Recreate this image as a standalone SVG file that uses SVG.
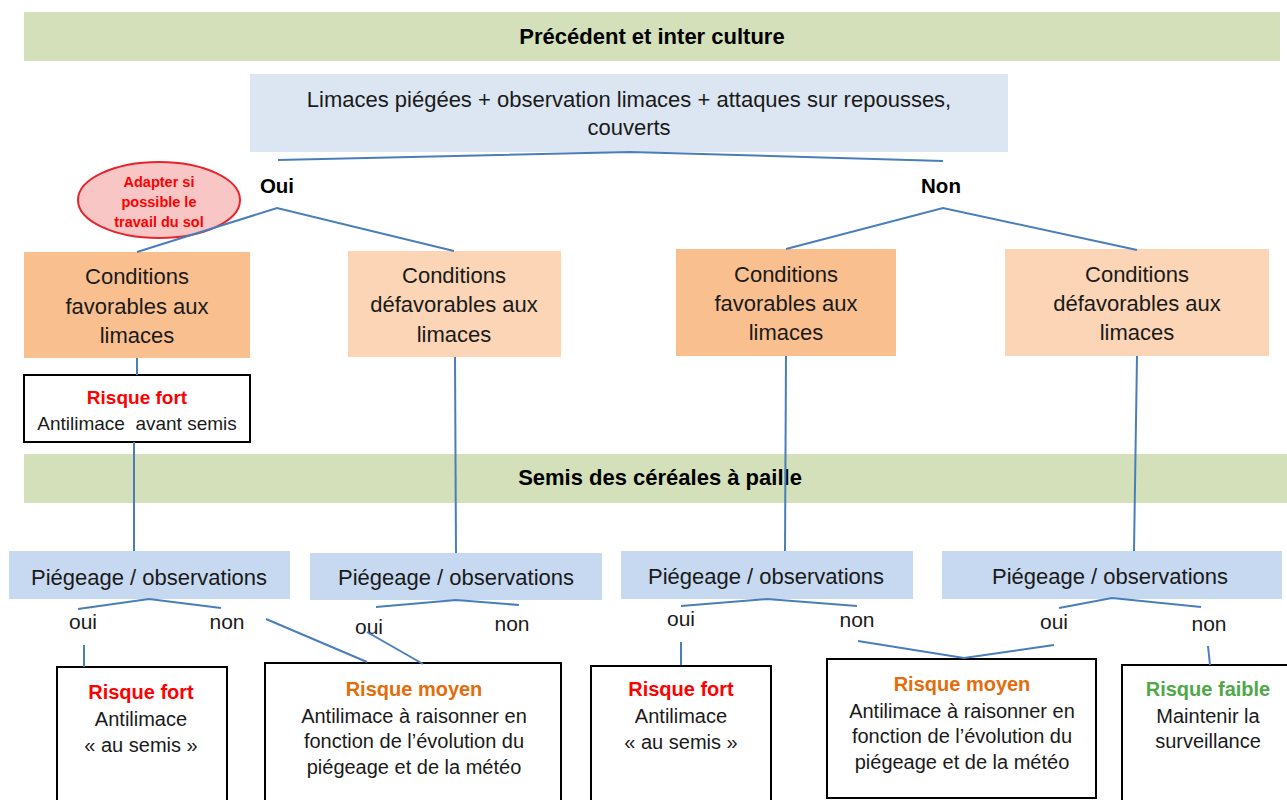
<svg xmlns="http://www.w3.org/2000/svg" width="1287" height="800" viewBox="0 0 1287 800">
<style>
text{font-family:"Liberation Sans",Arial,sans-serif;fill:#1a1a1a;text-anchor:middle;white-space:pre}
.band{fill:#d3e0b9}
.t22{font-size:22px}
.tb{font-size:22px;font-weight:bold;fill:#000}
.cd{fill:#f9bf8f}
.cl{fill:#fbd5b5}
.pg{fill:#c6d9f1}
.rk{fill:#fff;stroke:#000;stroke-width:2}
.lbl{font-size:21px}
.rf{font-weight:bold;fill:#ff0000}
.rm{font-weight:bold;fill:#e46c0a}
.rg{font-weight:bold;fill:#50a849}
.b20{font-size:20px}
.b19{font-size:19px}
.on{font-size:20.5px;font-weight:bold;fill:#000}
.el{font-size:14.5px}
.conn{fill:none;stroke:#4a7ebb;stroke-width:2}
</style>
<rect width="1287" height="800" fill="#fff"/>
<g id="band-precedent"><rect class="band" x="24" y="12" width="1256" height="49"/><text class="tb" x="652" y="44">Précédent et inter culture</text></g>
<g id="observation"><rect x="250" y="74" width="758" height="78" fill="#dce6f2"/><text class="t22" x="629" y="107">Limaces piégées + observation limaces + attaques sur repousses,</text><text class="t22" x="629" y="135">couverts</text></g>
<g id="label-oui"><text class="on" x="277" y="193">Oui</text></g>
<g id="label-non"><text class="on" x="941" y="193">Non</text></g>
<g id="adapter"><ellipse cx="159" cy="200" rx="81" ry="38" fill="#f9c6c6" stroke="#e5242b" stroke-width="2"/><text x="159" y="187" class="rf el">Adapter si</text><text x="159" y="207" class="rf el">possible le</text><text x="159" y="227" class="rf el">travail du sol</text></g>
<g id="cond-oui-fav"><rect class="cd" x="24" y="252" width="226" height="106"/><text class="t22" x="137" y="284">Conditions</text><text class="t22" x="137" y="314">favorables aux</text><text class="t22" x="137" y="343">limaces</text></g>
<g id="cond-oui-defav"><rect class="cl" x="348" y="251" width="213" height="106"/><text class="t22" x="454" y="283">Conditions</text><text class="t22" x="454" y="312">défavorables aux</text><text class="t22" x="454" y="342">limaces</text></g>
<g id="cond-non-fav"><rect class="cd" x="676" y="249" width="220" height="107"/><text class="t22" x="786" y="282">Conditions</text><text class="t22" x="786" y="311">favorables aux</text><text class="t22" x="786" y="340">limaces</text></g>
<g id="cond-non-defav"><rect class="cl" x="1005" y="249" width="264" height="107"/><text class="t22" x="1137" y="282">Conditions</text><text class="t22" x="1137" y="311">défavorables aux</text><text class="t22" x="1137" y="340">limaces</text></g>
<g id="risque-avant-semis"><rect class="rk" x="24" y="375" width="226" height="67"/><text class="b19 rf" x="137" y="404">Risque fort</text><text class="b19" x="137" y="430">Antilimace  avant semis</text></g>
<g id="band-semis"><rect class="band" x="24" y="454" width="1263" height="49"/><text class="tb" x="660" y="485">Semis des céréales à paille</text></g>
<g id="piegeage-1"><rect class="pg" x="9" y="551" width="281" height="48"/><text class="t22" x="149" y="585">Piégeage / observations</text></g>
<g id="piegeage-2"><rect class="pg" x="310" y="553" width="292" height="47"/><text class="t22" x="456" y="585">Piégeage / observations</text></g>
<g id="piegeage-3"><rect class="pg" x="621" y="551" width="292" height="48"/><text class="t22" x="766" y="584">Piégeage / observations</text></g>
<g id="piegeage-4"><rect class="pg" x="942" y="551" width="340" height="48"/><text class="t22" x="1110" y="584">Piégeage / observations</text></g>
<g id="labels-pieg">
<text class="lbl" x="83" y="629">oui</text><text class="lbl" x="227" y="629">non</text>
<text class="lbl" x="369" y="634">oui</text><text class="lbl" x="512" y="631">non</text>
<text class="lbl" x="681" y="626">oui</text><text class="lbl" x="857" y="627">non</text>
<text class="lbl" x="1054" y="629">oui</text><text class="lbl" x="1209" y="631">non</text>
</g>
<g id="risque-fort-1"><rect class="rk" x="57" y="667" width="170" height="145"/><text class="b20 rf" x="141" y="699">Risque fort</text><text class="b20" x="141" y="726">Antilimace</text><text class="b20" x="141" y="752">« au semis »</text></g>
<g id="risque-moyen-1"><rect class="rk" x="265" y="663" width="296" height="150"/><text class="b20 rm" x="414" y="696">Risque moyen</text><text class="b20" x="414" y="723">Antilimace à raisonner en</text><text class="b20" x="414" y="748">fonction de l’évolution du</text><text class="b20" x="414" y="774">piégeage et de la météo</text></g>
<g id="risque-fort-2"><rect class="rk" x="591" y="666" width="180" height="146"/><text class="b20 rf" x="681" y="696">Risque fort</text><text class="b20" x="681" y="723">Antilimace</text><text class="b20" x="681" y="749">« au semis »</text></g>
<g id="risque-moyen-2"><rect class="rk" x="827" y="659" width="269" height="139"/><text class="b20 rm" x="962" y="691">Risque moyen</text><text class="b20" x="962" y="718">Antilimace à raisonner en</text><text class="b20" x="962" y="743">fonction de l’évolution du</text><text class="b20" x="962" y="769">piégeage et de la météo</text></g>
<g id="risque-faible"><rect class="rk" x="1122" y="665" width="180" height="148"/><text class="b20 rg" x="1208" y="696">Risque faible</text><text class="b20" x="1208" y="723">Maintenir la</text><text class="b20" x="1208" y="748">surveillance</text></g>
<g id="connectors" class="conn">
<polyline points="278,160 630,152 943,161"/>
<polyline points="137,252 277,208 454,251"/>
<polyline points="786,249 943,208 1137,250"/>
<line x1="137" y1="358" x2="137" y2="375"/>
<line x1="134" y1="442" x2="134" y2="551"/>
<line x1="455" y1="357" x2="456" y2="553"/>
<line x1="786" y1="356" x2="785" y2="551"/>
<line x1="1137" y1="356" x2="1134" y2="551"/>
<polyline points="78,609 149,599 221,608"/>
<line x1="84" y1="645" x2="84" y2="667"/>
<line x1="266" y1="619" x2="367" y2="662"/>
<polyline points="376,607 456,600 519,605"/>
<line x1="367" y1="632" x2="423" y2="664"/>
<polyline points="681,606 767,599 857,606"/>
<line x1="681" y1="642" x2="681" y2="665"/>
<polyline points="858,641 964,658 1054,645"/>
<polyline points="1059,608 1112,598 1201,607"/>
<line x1="1208" y1="646" x2="1210" y2="665"/>
</g>
</svg>
